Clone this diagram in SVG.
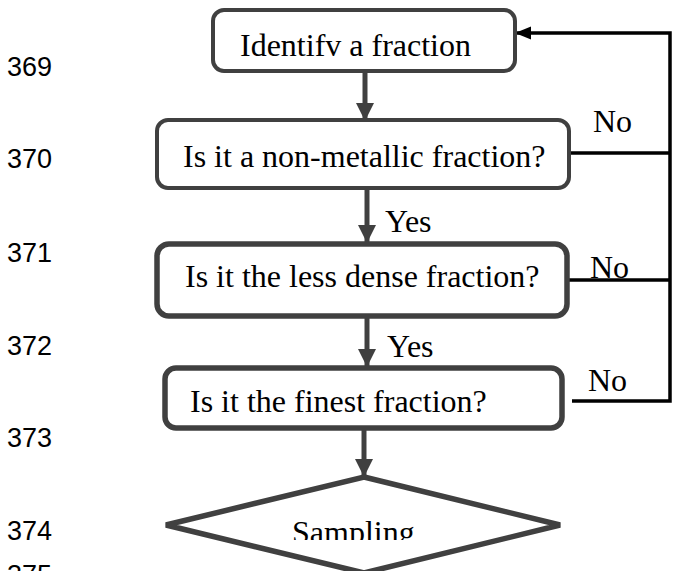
<svg xmlns="http://www.w3.org/2000/svg" width="673" height="571" viewBox="0 0 673 571">
<style>
.box{fill:#fff;stroke:#404040;stroke-width:4}
.thick{stroke-width:5.5}
.t{font-family:"Liberation Serif","Times New Roman",serif;font-size:32px;fill:#000}
.ln{font-family:"Liberation Sans",Arial,sans-serif;font-size:27px;fill:#000}
.g{stroke:#404040;stroke-width:5;fill:none}
.k{stroke:#000;stroke-width:3.5;fill:none}
</style>
<defs>
<marker id="ga" markerUnits="userSpaceOnUse" markerWidth="18" markerHeight="20" refX="17" refY="9" orient="auto" viewBox="0 0 18 18">
<path d="M0,0 L18,9 L0,18 Z" fill="#404040"/>
</marker>
<marker id="ka" markerUnits="userSpaceOnUse" markerWidth="16" markerHeight="14" refX="15" refY="6.5" orient="auto" viewBox="0 0 16 13">
<path d="M0,0 L16,6.5 L0,13 Z" fill="#000"/>
</marker>
<clipPath id="sc"><rect x="0" y="0" width="673" height="540"/></clipPath>
</defs>
<g id="line-numbers">
<text class="ln" x="7" y="76">369</text>
<text class="ln" x="7" y="168">370</text>
<text class="ln" x="7" y="262">371</text>
<text class="ln" x="7" y="355">372</text>
<text class="ln" x="7" y="447">373</text>
<text class="ln" x="7" y="540">374</text>
<text class="ln" x="7" y="584">375</text>
</g>
<g id="connectors">
<line class="g" x1="365" y1="71" x2="365" y2="120" marker-end="url(#ga)"/>
<line class="g" x1="367" y1="189" x2="367" y2="242" marker-end="url(#ga)"/>
<line class="g" x1="367" y1="317" x2="367" y2="366" marker-end="url(#ga)"/>
<line class="g" x1="364" y1="429" x2="364" y2="476" marker-end="url(#ga)"/>
<polyline class="k" points="570,153 670,153"/>
<polyline class="k" points="567,280 670,280"/>
<polyline class="k" points="572,401 670,401 670,33 516,33" marker-end="url(#ka)"/>
<text class="t" x="385" y="232" font-size="30">Yes</text>
<text class="t" x="387" y="357" font-size="30">Yes</text>
<text class="t" x="593" y="132">No</text>
<text class="t" x="590" y="278">No</text>
<text class="t" x="588" y="391">No</text>
</g>
<g id="n1">
<rect class="box" x="213" y="10" width="302" height="61" rx="11"/>
<text class="t" x="240" y="56">Identifv a fraction</text>
</g>
<g id="n2">
<rect class="box" x="157" y="120" width="412" height="68" rx="11"/>
<text class="t" x="183" y="167">Is it a non-metallic fraction?</text>
</g>
<g id="n3">
<rect class="box thick" x="157" y="244" width="410" height="72" rx="12"/>
<text class="t" x="185" y="287">Is it the less dense fraction?</text>
</g>
<g id="n4">
<rect class="box thick" x="165" y="368" width="397" height="60" rx="11"/>
<text class="t" x="190" y="412">Is it the finest fraction?</text>
</g>
<g id="n5">
<polygon class="box thick" points="364,477 560,525 364,573 166,525"/>
<text class="t" x="292" y="543" clip-path="url(#sc)">Sampling</text>
</g>
</svg>
